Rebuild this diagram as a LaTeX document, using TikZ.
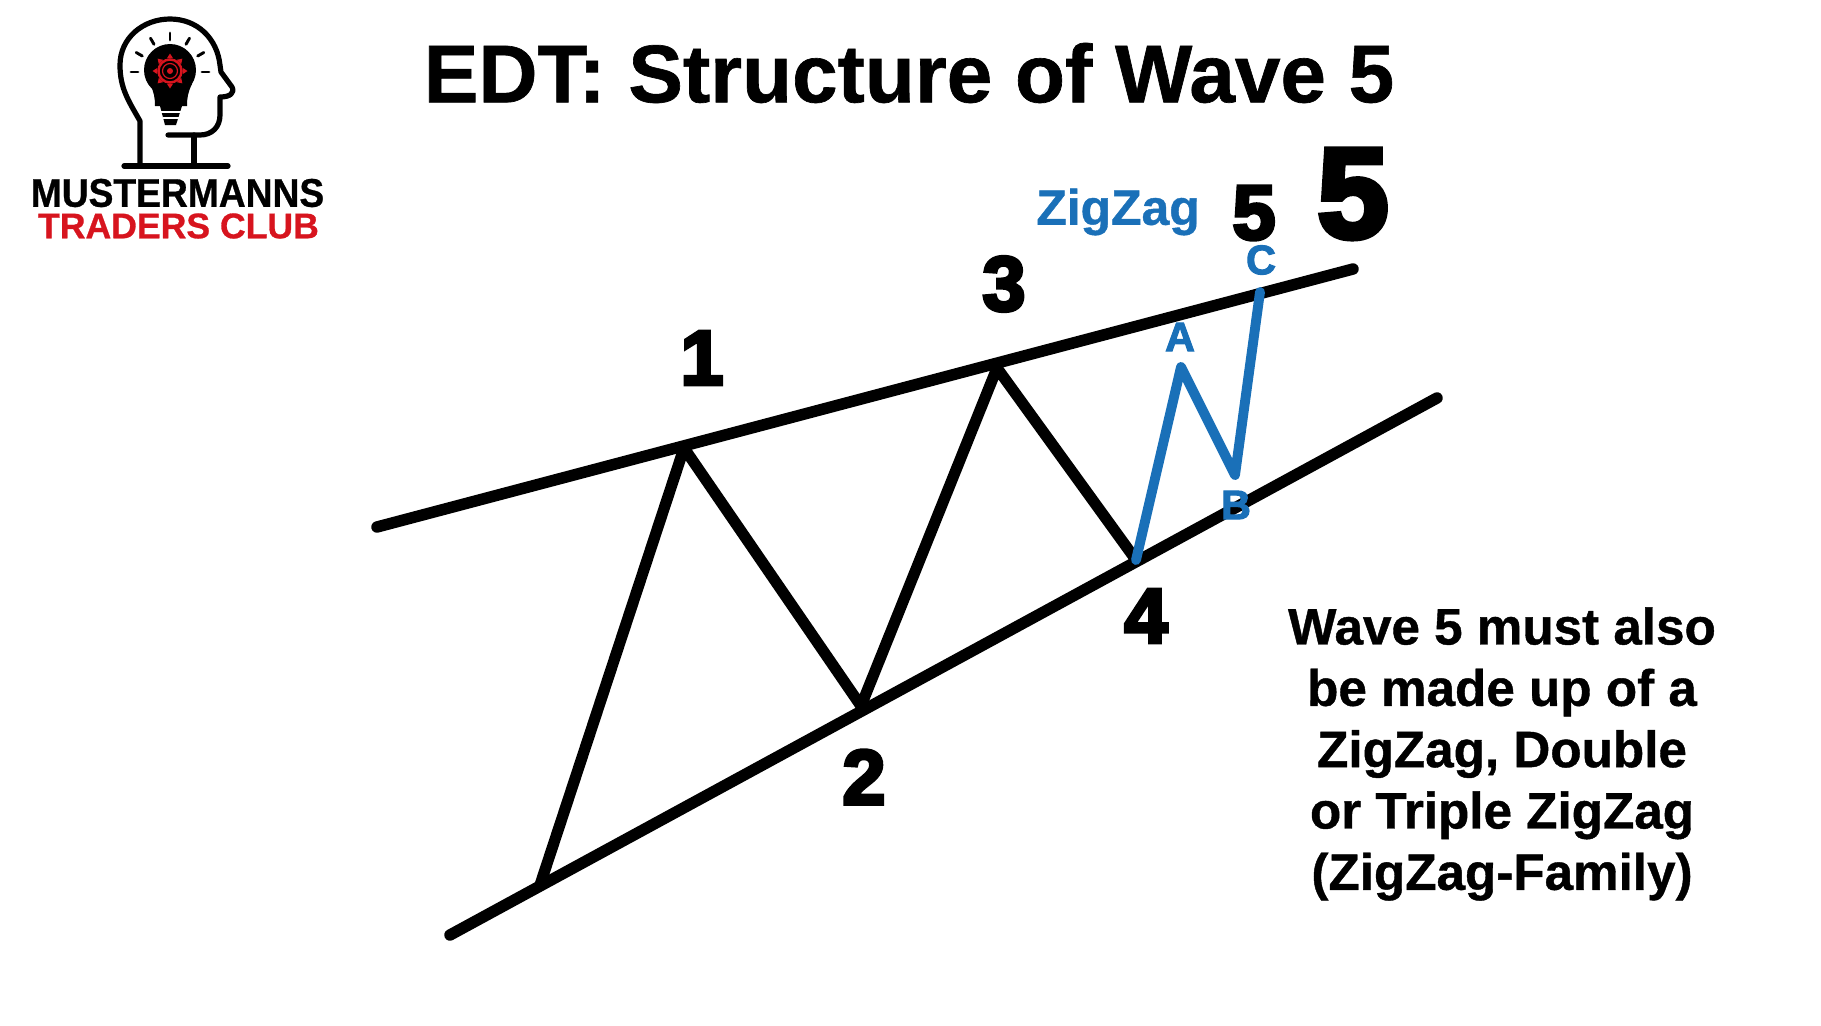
\documentclass[tikz,border=0pt]{standalone}
\usetikzlibrary{calc}
\usepackage{fontspec}
\setmainfont{Liberation Sans}
\newfontfamily\heavy{Liberation Sans}[BoldFeatures={FakeBold=4.5}]
\newfontfamily\semiheavy{Liberation Sans}[BoldFeatures={FakeBold=2.5}]
\newfontfamily\slight{Liberation Sans}[BoldFeatures={FakeBold=0.8}]
\definecolor{waveblue}{HTML}{1A70B8}
\definecolor{logored}{HTML}{D7141E}
\tikzset{
  px/.style={x=0.75pt,y=-0.75pt},
  wave/.style={draw=black,line width=8.4pt,line cap=round,line join=round},
  rail/.style={draw=black,line width=8.6pt,line cap=round},
  zig/.style={draw=waveblue,line width=7.4pt,line cap=round,line join=round},
  num/.style={inner sep=0pt,font=\heavy\bfseries\fontsize{58}{58}\selectfont},
  abc/.style={inner sep=0pt,text=waveblue,font=\semiheavy\bfseries\fontsize{31}{31}\selectfont},
  body/.style={inner sep=0pt,font=\slight\bfseries\fontsize{38.4}{46}\selectfont,align=center},
  logoline/.style={draw=black,line width=3.9pt,line cap=round,line join=round},
  ray/.style={draw=black,line width=2.2pt,line cap=round},
  gear/.style={draw=logored},
}
\begin{document}
\begin{tikzpicture}[px]
\useasboundingbox (0,0) rectangle (1821,1025);
% wave points
\coordinate (uL) at (377,527);
\coordinate (uR) at (1353,269);
\coordinate (lL) at (450,935);
\coordinate (lR) at (1437,398);
\coordinate (w0) at (540,885);
\coordinate (w1) at (684,448);
\coordinate (w2) at (861,706);
\coordinate (w3) at (997,368);
\coordinate (w4) at (1136,560);
\coordinate (wA) at (1181,367);
\coordinate (wB) at (1235,475);
\coordinate (wC) at (1260,292);
\draw[wave] (w0) -- (w1) -- (w2) -- (w3) -- (w4);
\draw[rail] (uL) -- (uR);
\draw[rail] (lL) -- (lR);
\draw[zig] (w4) -- (wA) -- (wB) -- (wC);
% labels
\node[inner sep=0pt,font=\slight\bfseries\fontsize{61.4}{61}\selectfont] (title) at (909,73) {EDT: Structure of Wave 5};
\node[num] (n1) at (702,358) {1};
\node[num] (n2) at (864,777) {2};
\node[num] (n3) at (1004,284) {3};
\node[num] (n4) at (1146,616) {4};
\node[num] (n5) at (1254,213) {5};
\node[inner sep=0pt,font=\heavy\bfseries\fontsize{96}{96}\selectfont] (n5big) at (1353,194) {5};
\node[inner sep=0pt,text=waveblue,font=\slight\bfseries\fontsize{37.4}{37}\selectfont] (zz) at (1118,212) {ZigZag};
\node[abc] (lA) at (1180,337) {A};
\node[abc] (lB) at (1236,505) {B};
\node[abc] (lC) at (1261,260) {C};
\node[body] (note) at (1502,754) {Wave 5 must also\\be made up of a\\ZigZag, Double\\or Triple ZigZag\\(ZigZag-Family)};
% logo
\draw[logoline] (140,163) -- (140,121) .. controls (128,100) and (120,88) .. (120,65)
  .. controls (120,38) and (143,19) .. (170,19) .. controls (197,19) and (217,38) .. (220,65)
  -- (221,72) -- (232,87) .. controls (235,93) and (230,97) .. (220,97) -- (220,115)
  .. controls (220,127) and (212,135) .. (200,135) -- (168,135);
\draw[logoline] (194,135) -- (194,165);
\draw[logoline] (124,166) -- (228,166);
\foreach \a in {0,-30,-60,-90,-120,-150,-180}
  \draw[ray] ($(170,72)+(\a:32)$) -- ($(170,72)+(\a:39)$);
\fill[black] (170,70) circle (26);
\fill[black] (150,84) .. controls (154,92) and (155,98) .. (155,106) -- (187,106) .. controls (187,98) and (188,92) .. (192,84) -- cycle;
\fill[black] (160,106) -- (182,106) -- (176,125) -- (165,125) -- cycle;
\draw[white,line width=1.2pt] (161,112) -- (181,112);
\draw[white,line width=1.2pt] (163,118) -- (179,118);
\foreach \a in {0,45,...,315}
  \fill[logored] ($(170,71)+(\a-14:13)$) -- ($(170,71)+(\a:17.5)$) -- ($(170,71)+(\a+14:13)$) -- cycle;
\draw[gear,line width=1.8pt] (170,71) circle (11.5);
\draw[gear,line width=0.9pt] (170,71) circle (7.5);
\fill[logored] (170,71) circle (3);
\node[inner sep=0pt,font=\slight\bfseries\fontsize{30}{30}\selectfont,xscale=0.93] (logoA) at (177.5,193) {MUSTERMANNS};
\node[inner sep=0pt,text=logored,font=\slight\bfseries\fontsize{26.7}{27}\selectfont] (logoB) at (178.5,226) {TRADERS CLUB};
\end{tikzpicture}
\end{document}
